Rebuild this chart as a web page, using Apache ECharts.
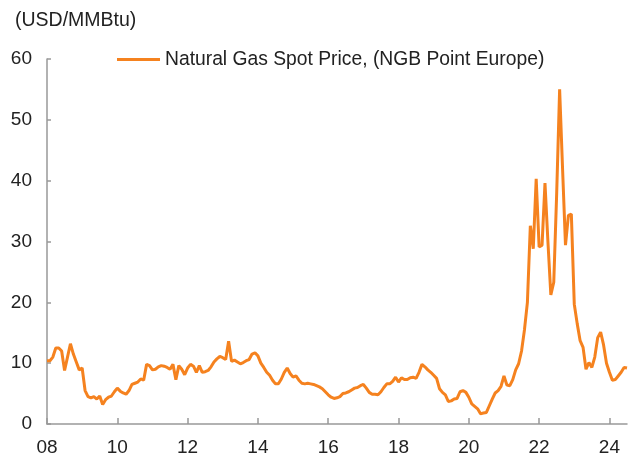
<!DOCTYPE html>
<html>
<head>
<meta charset="utf-8">
<script src="https://cdn.jsdelivr.net/npm/echarts@6/dist/echarts.min.js"></script>
<style>
  html, body { margin: 0; padding: 0; background: #fff; }
  #chart { width: 631px; height: 460px; }
</style>
</head>
<body>
<div id="chart"></div>
<script>
// monthly, Jan 2008 .. Jul 2024
const startYear = 2008;
const prices = [
  10.4, 10.4, 11.0, 12.5, 12.5, 12.0, 8.8, 11.0, 13.2, 11.5, 10.2, 8.9,
  9.2, 5.5, 4.5, 4.3, 4.5, 4.1, 4.6, 3.2, 4.0, 4.4, 4.6, 5.3,
  5.9, 5.4, 5.1, 4.9, 5.5, 6.5, 6.7, 6.9, 7.4, 7.2, 9.8, 9.6,
  8.9, 9.0, 9.4, 9.6, 9.5, 9.3, 9.0, 9.8, 7.3, 9.6, 9.0, 8.1,
  9.2, 9.8, 9.5, 8.5, 9.6, 8.5, 8.6, 8.8, 9.4, 10.2, 10.7, 11.1,
  10.9, 10.6, 13.6, 10.3, 10.5, 10.2, 9.9, 10.1, 10.4, 10.6, 11.5, 11.7,
  11.2, 10.0, 9.3, 8.5, 8.0, 7.2, 6.6, 6.6, 7.4, 8.5, 9.2, 8.3,
  7.7, 7.9, 7.2, 6.7, 6.6, 6.7, 6.6, 6.5, 6.3, 6.1, 5.8, 5.3,
  4.8, 4.4, 4.2, 4.3, 4.5, 5.0, 5.1, 5.3, 5.6, 5.9, 6.0, 6.3,
  6.5, 5.9, 5.2, 4.9, 4.9, 4.8, 5.3, 6.0, 6.6, 6.6, 7.0, 7.7,
  6.9, 7.6, 7.3, 7.3, 7.6, 7.7, 7.5, 8.5, 9.8, 9.4, 8.9, 8.5,
  8.0, 7.5, 5.8, 5.2, 4.8, 3.7, 3.8, 4.1, 4.2, 5.3, 5.5, 5.2,
  4.4, 3.3, 2.9, 2.5, 1.7, 1.8, 1.9, 3.0, 4.1, 5.1, 5.5, 6.2,
  7.9, 6.4, 6.3, 7.3, 8.9, 9.9, 12.0, 15.5, 20.0, 32.6, 28.8, 40.3,
  29.1, 29.4, 39.6, 30.0, 21.2, 23.3, 38.0, 55.0, 42.0, 29.4, 34.3, 34.5,
  19.7, 16.5, 13.7, 12.6, 9.0, 10.1, 9.3, 11.0, 14.2, 15.1, 13.0, 10.0,
  8.5, 7.2, 7.3, 7.9, 8.5, 9.3, 9.2
];
const months = prices.map((_, i) => {
  const y = startYear + Math.floor(i / 12);
  const m = (i % 12) + 1;
  return `${y}-${String(m).padStart(2, '0')}`;
});
const yTicks = { min: 0, max: 60, step: 10 };

const axisColor = '#999';
const textColor = '#222';
const fontFamily = '"Liberation Sans", Arial, sans-serif';
const fontSize = 19;
const everyTwoYears = idx => idx % 24 === 0;

const chart = echarts.init(document.getElementById('chart'));
chart.setOption({
  animation: false,
  title: {
    text: '(USD/MMBtu)',
    left: 10,
    top: 6,
    textStyle: { fontFamily, fontSize: 19.5, fontWeight: 'normal', color: textColor }
  },
  legend: {
    left: 112,
    top: 45,
    icon: 'rect',
    itemWidth: 43,
    itemHeight: 3,
    textStyle: { fontFamily, fontSize: 19.3, color: textColor },
    data: ['Natural Gas Spot Price, (NGB Point Europe)']
  },
  grid: { left: 47, right: 4, top: 59, bottom: 36 },
  xAxis: {
    type: 'category',
    data: months,
    boundaryGap: false,
    axisLine: { lineStyle: { color: axisColor, width: 1.5 } },
    axisTick: { inside: true, length: 6, interval: everyTwoYears, lineStyle: { color: axisColor, width: 1.5 } },
    axisLabel: {
      interval: everyTwoYears,
      margin: 14,
      fontFamily,
      fontSize,
      color: textColor,
      formatter: v => v.slice(2, 4)
    },
    splitLine: { show: false }
  },
  yAxis: {
    type: 'value',
    min: yTicks.min,
    max: yTicks.max,
    interval: yTicks.step,
    axisLine: { show: true, lineStyle: { color: axisColor, width: 1.5 } },
    axisTick: { show: true, inside: true, length: 4, lineStyle: { color: axisColor, width: 1.5 } },
    axisLabel: { margin: 15, fontFamily, fontSize, color: textColor },
    splitLine: { show: false }
  },
  series: [
    {
      name: 'Natural Gas Spot Price, (NGB Point Europe)',
      type: 'line',
      data: prices,
      showSymbol: false,
      symbol: 'none',
      itemStyle: { color: '#F5821F' },
      lineStyle: { color: '#F5821F', width: 3 }
    }
  ]
});
</script>
</body>
</html>
